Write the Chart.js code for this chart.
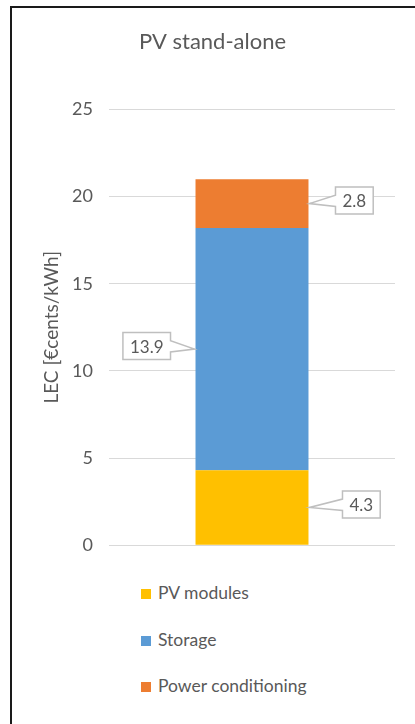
<!DOCTYPE html>
<html>
<head>
<meta charset="utf-8">
<script src="https://cdn.jsdelivr.net/npm/chart.js"></script>
<style>
body{margin:0;background:#fff;font-family:Lato, "Open Sans", sans-serif;overflow:hidden}
#frame{position:absolute;left:10px;top:6px;width:420px;height:740px;border-top:2px solid #1a1a1a;border-left:2px solid #1a1a1a}
#box{position:absolute;left:0;top:0;width:415px;height:572px}
#legend{position:absolute;left:141px;top:581px;color:#595959;font-size:17.5px}
#legend div{height:46.5px;line-height:24px;white-space:nowrap}
#legend span{display:inline-block;width:10px;height:10px;margin-right:7px;vertical-align:0px}
</style>
</head>
<body>
<div id="frame"></div>
<div id="box"><canvas id="myChart"></canvas></div>
<div id="legend"></div>
<script>
const chartText = "PV stand-alone"
const axisText = "LEC [€cents/kWh]"
const categories = [""]
const seriesNames = ["PV modules", "Storage", "Power conditioning"]
const pvModules = [4.3]
const storage = [13.9]
const powerConditioning = [2.8]
const colors = ["#FFC000", "#5B9BD5", "#ED7D31"]
const yTicks = [0, 5, 10, 15, 20, 25]

const textColor = "#595959"
// callout side (+1 right, -1 left) and gap from the bar edge, per series
const calloutSide = [1, -1, 1]
const calloutGap = [34, 25, 27]

const calloutPlugin = {
    id: "callouts",
    afterDatasetsDraw(chart) {
        const ctx = chart.ctx
        ctx.save()
        ctx.font = "17px Lato"
        ctx.textAlign = "center"
        ctx.textBaseline = "middle"
        chart.data.datasets.forEach((ds, i) => {
            const el = chart.getDatasetMeta(i).data[0]
            const midY = (el.y + el.base) / 2
            const half = el.width / 2
            const text = ds.data[0].toFixed(1)
            const w = ctx.measureText(text).width + 14
            const h = 27
            let edge, bx
            if (calloutSide[i] > 0) {
                edge = el.x + half
                bx = edge + calloutGap[i]
            } else {
                edge = el.x - half
                bx = edge - calloutGap[i] - w
            }
            const by = midY - h / 2 - 3
            ctx.beginPath()
            if (calloutSide[i] > 0) {
                ctx.moveTo(bx, by)
                ctx.lineTo(bx + w, by)
                ctx.lineTo(bx + w, by + h)
                ctx.lineTo(bx, by + h)
                ctx.lineTo(bx, by + h * 0.72)
                ctx.lineTo(edge + 1, midY)
                ctx.lineTo(bx, by + h * 0.3)
            } else {
                ctx.moveTo(bx, by)
                ctx.lineTo(bx + w, by)
                ctx.lineTo(bx + w, by + h * 0.3)
                ctx.lineTo(edge - 1, midY)
                ctx.lineTo(bx + w, by + h * 0.72)
                ctx.lineTo(bx + w, by + h)
                ctx.lineTo(bx, by + h)
            }
            ctx.closePath()
            ctx.fillStyle = "#fff"
            ctx.fill()
            ctx.lineWidth = 1.5
            ctx.strokeStyle = "#BFBFBF"
            ctx.stroke()
            ctx.fillStyle = textColor
            ctx.fillText(text, bx + w / 2, by + h / 2 + 1)
        })
        ctx.restore()
    }
}

const seriesValues = [pvModules, storage, powerConditioning]

new Chart("myChart", {
    type: "bar",
    data: {
        labels: categories,
        datasets: seriesNames.map((n, i) => ({
            label: n,
            data: seriesValues[i],
            backgroundColor: colors[i],
            borderWidth: 0,
            categoryPercentage: 1,
            barPercentage: 0.395
        }))
    },
    options: {
        responsive: true,
        maintainAspectRatio: false,
        animation: false,
        layout: { padding: { left: 30, right: 20, top: 0, bottom: 10 } },
        plugins: {
            legend: { display: false },
            tooltip: { enabled: false },
            title: {
                display: true,
                text: chartText,
                color: textColor,
                font: { family: "Lato", size: 22, weight: "normal" },
                padding: { top: 29, bottom: 54 }
            }
        },
        scales: {
            x: { stacked: true, display: false },
            y: {
                stacked: true,
                min: 0,
                max: 25,
                afterBuildTicks: s => { s.ticks = yTicks.map(v => ({ value: v })) },
                afterFit: s => { s.width = 79 },
                border: { display: false },
                grid: { color: "#D9D9D9", lineWidth: 1, drawTicks: false },
                ticks: { color: textColor, padding: 16, font: { family: "Lato", size: 18 } },
                title: {
                    display: true,
                    text: axisText,
                    color: textColor,
                    font: { family: "Lato", size: 19 },
                    padding: { top: 10, bottom: 0 }
                }
            }
        }
    },
    plugins: [calloutPlugin]
})

const legendBox = document.getElementById("legend")
seriesNames.forEach((n, i) => {
    const row = document.createElement("div")
    row.innerHTML = '<span style="background:' + colors[i] + '"></span>' + n
    legendBox.appendChild(row)
})
</script>
</body>
</html>
